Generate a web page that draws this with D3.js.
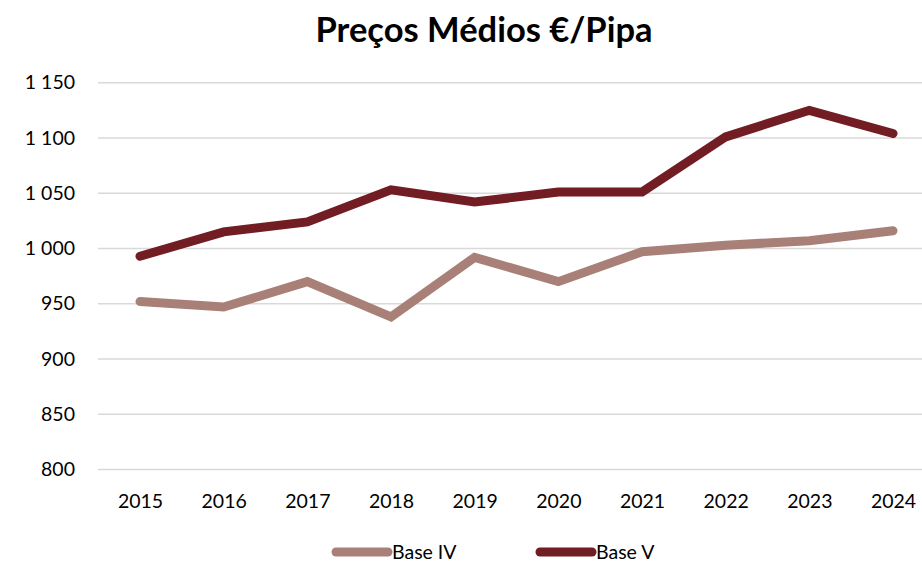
<!DOCTYPE html>
<html>
<head>
<meta charset="utf-8">
<script src="https://cdn.jsdelivr.net/npm/d3@7"></script>
<style>
  body { margin: 0; background: #fff; }
  svg text { font-family: Lato, "Open Sans", sans-serif; fill: #000; }
</style>
</head>
<body>
<div id="chart"></div>
<script>
var years = [2015, 2016, 2017, 2018, 2019, 2020, 2021, 2022, 2023, 2024];
var baseIV = [952, 947, 970, 938, 992, 970, 997, 1003, 1007, 1016];
var baseV = [993, 1015, 1024, 1053, 1042, 1051, 1051, 1101, 1125, 1104];
var yTicks = [800, 850, 900, 950, 1000, 1050, 1100, 1150];
var seriesNames = ["Base IV", "Base V"];
var seriesColors = ["#a98077", "#721c24"];

var width = 922;
var height = 562;
var fontSize = "19.5px";

var svg = d3.select("#chart")
  .append("svg")
  .attr("width", width)
  .attr("height", height);

/* Scales */
var x = d3.scalePoint()
  .domain(years)
  .range([140, 893]);

var y = d3.scaleLinear()
  .domain([800, 1150])
  .range([469.5, 82.7]);

/* Title */
svg.append("text")
  .attr("x", 484)
  .attr("y", 42)
  .attr("text-anchor", "middle")
  .style("font-size", "34.5px")
  .style("font-weight", "bold")
  .text("Preços Médios €/Pipa");

/* Gridlines */
svg.append("g")
  .selectAll("line")
  .data(yTicks)
  .enter()
  .append("line")
  .attr("x1", 98)
  .attr("x2", 935)
  .attr("y1", d => y(d))
  .attr("y2", d => y(d))
  .style("stroke", "#d9d9d9")
  .style("stroke-width", 1.5);

/* Y axis labels */
var fmt = d => d3.format(",")(d).replace(",", " ");
var yAxis = d3.axisLeft(y).tickValues(yTicks).tickSize(0).tickPadding(0).tickFormat(fmt);
var yg = svg.append("g")
  .attr("transform", "translate(75,0)")
  .call(yAxis);
yg.select(".domain").remove();
yg.selectAll("text")
  .style("font-size", fontSize)
  .style("font-family", "Lato, 'Open Sans', sans-serif")
  .attr("fill", "#000");

/* X axis labels */
var xAxis = d3.axisBottom(x).tickSize(0).tickPadding(0);
var xg = svg.append("g")
  .attr("transform", "translate(0,494)")
  .call(xAxis);
xg.select(".domain").remove();
xg.selectAll("text")
  .style("font-size", fontSize)
  .style("font-family", "Lato, 'Open Sans', sans-serif")
  .attr("fill", "#000");

/* Lines */
var line = d3.line()
  .x((d, i) => x(years[i]))
  .y(d => y(d));

var series = [baseIV, baseV];
svg.append("g")
  .selectAll("path")
  .data(series)
  .enter()
  .append("path")
  .attr("d", d => line(d))
  .style("fill", "none")
  .style("stroke", (d, i) => seriesColors[i])
  .style("stroke-width", 9)
  .style("stroke-linecap", "round")
  .style("stroke-linejoin", "miter");

/* Legend */
var legendX = [336, 540];
var legend = svg.append("g")
  .selectAll("g")
  .data(seriesNames)
  .enter()
  .append("g")
  .attr("transform", (d, i) => `translate(${legendX[i]}, 552)`);

legend.append("line")
  .attr("x1", 0)
  .attr("x2", 52)
  .style("stroke", (d, i) => seriesColors[i])
  .style("stroke-width", 9)
  .style("stroke-linecap", "round");

legend.append("text")
  .attr("x", 56)
  .attr("y", 7)
  .style("font-size", fontSize)
  .text(d => d);
</script>
</body>
</html>
